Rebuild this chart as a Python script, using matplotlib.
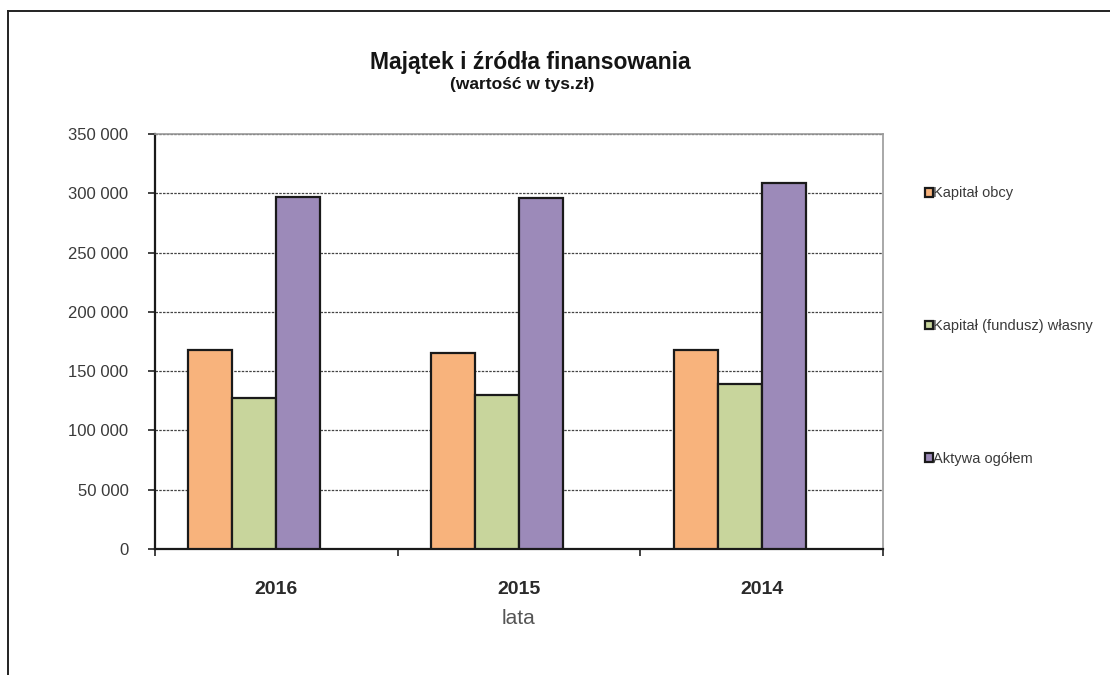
import numpy as np
import matplotlib.pyplot as plt
from matplotlib.ticker import FuncFormatter

# values in thousands of PLN
lata = ['2016', '2015', '2014']
kapital_obcy = [167800, 165300, 167800]
kapital_wlasny = [127100, 129900, 139000]
aktywa_ogolem = [296600, 296400, 308500]

serie = ['Kapitał obcy', 'Kapitał (fundusz) własny', 'Aktywa ogółem']
kolory = ['#F8B37C', '#C8D59C', '#9C8AB9']

plt.rcParams['font.family'] = ['Liberation Sans', 'DejaVu Sans']

fig = plt.figure(figsize=(11.1, 6.75), dpi=100)
ax = fig.add_axes([0.1396, 0.1867, 0.6559, 0.6148])

x = np.arange(len(lata))
w = 0.181
bars = []
# four slots per year, the last one is left empty
for i, (vals, kol) in enumerate(zip([kapital_obcy, kapital_wlasny, aktywa_ogolem], kolory)):
    b = ax.bar(x + (i - 1.5) * w, vals, w, color=kol, edgecolor='#1a1a1a',
               linewidth=1.6, label=serie[i], zorder=3)
    bars.append(b)

ax.set_xlim(-0.5, 2.5)
ax.set_ylim(0, 350000)
ax.set_yticks(np.arange(0, 350001, 50000))
ax.yaxis.set_major_formatter(FuncFormatter(lambda v, p: f'{int(v):,}'.replace(',', ' ')))
ax.yaxis.grid(True, linestyle=(0, (2, 1)), color='#444444', linewidth=0.9, zorder=0)

# ticks between the groups, year labels at group centres
ax.set_xticks([-0.5, 0.5, 1.5, 2.5])
ax.set_xticklabels([])
ax.set_xticks(x, minor=True)
ax.set_xticklabels(lata, minor=True, fontsize=14, fontweight='bold', color='#2a2a2a')
ax.tick_params(axis='x', which='minor', length=0, pad=23)
ax.tick_params(axis='x', which='major', length=5, width=1.2, color='#222222')
ax.tick_params(axis='y', length=5, width=1.2, color='#222222', pad=14,
               labelsize=12, labelcolor='#3a3a3a')

for s in ['left', 'bottom']:
    ax.spines[s].set_color('#1a1a1a')
    ax.spines[s].set_linewidth(1.6)
for s in ['top', 'right']:
    ax.spines[s].set_color('#999999')
    ax.spines[s].set_linewidth(1.2)

ax.set_xlabel('lata', fontsize=15, color='#555555', labelpad=8)

fig.text(0.478, 0.908, 'Majątek i źródła finansowania', ha='center', va='center',
         fontsize=16.5, fontweight='bold', color='#151515')
fig.text(0.470, 0.875, '(wartość w tys.zł)', ha='center', va='center',
         fontsize=12.5, fontweight='bold', color='#151515')

leg = fig.legend(handles=bars, labels=serie, loc='upper left',
                 bbox_to_anchor=(0.833, 0.724), frameon=False, fontsize=10.5,
                 handlelength=0.55, handleheight=0.55, handletextpad=0.05,
                 labelspacing=8.15, borderpad=0, borderaxespad=0)
for t in leg.get_texts():
    t.set_color('#3a3a3a')

# outer chart frame
fig.add_artist(plt.Line2D([0.007, 1.0], [0.984, 0.984], color='#222222', lw=1.4))
fig.add_artist(plt.Line2D([0.007, 0.007], [0.0, 0.984], color='#222222', lw=1.4))

fig.savefig('out.png', dpi=100)
